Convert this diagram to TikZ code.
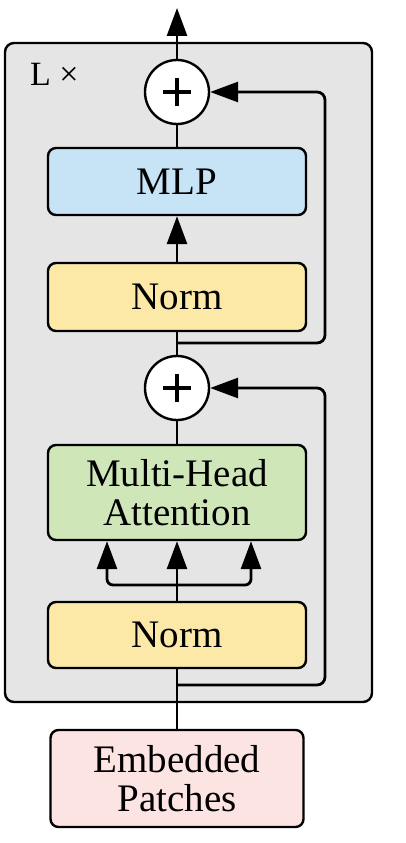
\documentclass[tikz,border=0pt]{standalone}
\usepackage{fontspec}
\setmainfont{Liberation Serif}
\usetikzlibrary{arrows.meta}
\definecolor{bggray}{HTML}{E5E5E5}
\definecolor{mlpblue}{HTML}{C7E4F7}
\definecolor{normyellow}{HTML}{FCE9A8}
\definecolor{mhagreen}{HTML}{CFE6B9}
\definecolor{embpink}{HTML}{FCE4E2}
\tikzset{
  blockbox/.style={draw, rounded corners=8pt, line width=2.4pt, minimum width=258pt, align=center, font=\fontsize{39}{39}\selectfont, inner sep=0pt},
  addcircle/.style={draw, circle, fill=white, line width=2.4pt, minimum size=64pt, inner sep=0pt},
  conn/.style={line width=2.8pt},
  arrowconn/.style={line width=2.8pt, -{Triangle[length=28pt,width=20pt]}},
  plusbar/.style={line width=3.2pt}
}
\begin{document}
\begin{tikzpicture}[x=1pt,y=-1pt]
\useasboundingbox (0,0) rectangle (405,843);
\node[draw, rounded corners=9pt, fill=bggray, line width=2.4pt, minimum width=367pt, minimum height=659pt, inner sep=0pt] (outer) at (188.5,372.5) {};
\node[font=\fontsize{34}{34}\selectfont, anchor=west, inner sep=0pt] (lx) at (30,74) {L ×};

\node[addcircle] (plus1) at (177,92) {};
\node[blockbox, fill=mlpblue, minimum height=67pt] (mlp) at (177,181.5) {MLP};
\node[blockbox, fill=normyellow, minimum height=68pt] (norm1) at (177,297) {Norm};
\node[addcircle] (plus2) at (177,388) {};
\node[blockbox, fill=mhagreen, minimum height=95pt] (mha) at (177,492.5) {Multi-Head\\Attention};
\node[blockbox, fill=normyellow, minimum height=66pt] (norm2) at (177,635) {Norm};
\node[blockbox, fill=embpink, minimum width=253pt, minimum height=97pt] (emb) at (177,778.5) {Embedded\\Patches};

\draw[plusbar] ([xshift=-14pt]plus1.center) -- ([xshift=14pt]plus1.center);
\draw[plusbar] ([yshift=-14pt]plus1.center) -- ([yshift=14pt]plus1.center);
\draw[plusbar] ([xshift=-14pt]plus2.center) -- ([xshift=14pt]plus2.center);
\draw[plusbar] ([yshift=-14pt]plus2.center) -- ([yshift=14pt]plus2.center);

\coordinate (out) at (177,8);
\coordinate (r1) at (177,343);
\coordinate (r2) at (177,685);
\coordinate (split) at (177,585);
\coordinate (rr1) at (325,343);
\coordinate (rr1t) at (325,92);
\coordinate (rr2) at (325,685);
\coordinate (rr2t) at (325,388);
\coordinate (sl) at (107,585);
\coordinate (sr) at (251,585);

\draw[arrowconn] (plus1.north) -- (out);
\draw[conn] (mlp.north) -- (plus1.south);
\draw[arrowconn] (norm1.north) -- (mlp.south);
\draw[conn] (plus2.north) -- (norm1.south);
\draw[conn] (mha.north) -- (plus2.south);
\draw[conn] (emb.north) -- (norm2.south);
\draw[conn] (norm2.north) -- (split);

\draw[arrowconn, rounded corners=8pt] (r1) -- (rr1) -- (rr1t) -- (plus1.east);
\draw[arrowconn, rounded corners=8pt] (r2) -- (rr2) -- (rr2t) -- (plus2.east);

\draw[arrowconn] (split) -- (mha.south);
\draw[arrowconn, rounded corners=6pt] (split) -- (sl) -- (sl |- mha.south);
\draw[arrowconn, rounded corners=6pt] (split) -- (sr) -- (sr |- mha.south);
\end{tikzpicture}
\end{document}
